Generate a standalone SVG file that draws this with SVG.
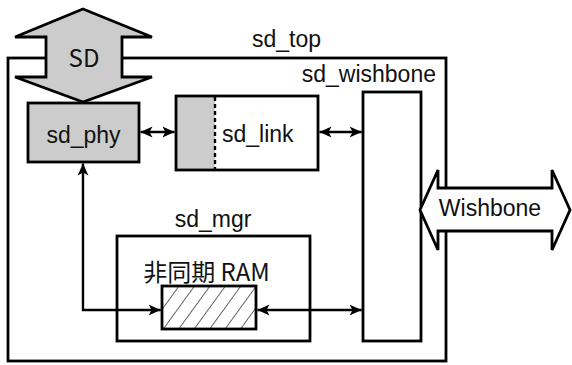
<svg xmlns="http://www.w3.org/2000/svg" width="572" height="365" viewBox="0 0 572 365">
  <style>
    .box { fill: #ffffff; stroke: #000000; stroke-width: 2.8; }
    .gray { fill: #cccccc; }
    .wire { fill: none; stroke: #000000; stroke-width: 2.4; }
    .lbl { font-family: "Liberation Sans", Arial, sans-serif; font-size: 23px; fill: #111111; }
    .jp { font-family: "Noto Sans CJK JP", "Liberation Sans", sans-serif; font-size: 24px; fill: #111111; }
  </style>
  <defs>
    <marker id="arrow" viewBox="0 0 10 10" refX="10" refY="5" markerWidth="12" markerHeight="12" markerUnits="userSpaceOnUse" orient="auto-start-reverse">
      <path d="M0,0.5 L10,5 L0,9.5 L2.5,5 Z" fill="#000000"/>
    </marker>
    <pattern id="hatch" patternUnits="userSpaceOnUse" width="12.5" height="12.5" patternTransform="rotate(36)">
      <line x1="0" y1="0" x2="0" y2="12.5" stroke="#1a1010" stroke-width="1.3"/>
    </pattern>
  </defs>

  <!-- outer module -->
  <g id="sd_top">
    <rect class="box" x="8" y="58" width="438" height="303"/>
    <text class="lbl" x="252" y="47">sd_top</text>
  </g>

  <!-- SD bus, bidirectional block arrow -->
  <g id="sd_port">
    <polygon points="83,9 152,37 122,37 122,77 152,77 83,102 15,77 46,77 46,37 15,37" fill="#cccccc" stroke="#000000" stroke-width="2.8" stroke-linejoin="miter"/>
    <text class="jp" x="84" y="67" text-anchor="middle">SD</text>
  </g>

  <g id="sd_wishbone">
    <rect class="box" x="363" y="92" width="58" height="249"/>
    <text class="lbl" x="436" y="82" text-anchor="end">sd_wishbone</text>
  </g>

  <g id="sd_phy">
    <rect class="box gray" x="28" y="103" width="111" height="59"/>
    <text class="lbl" x="83.5" y="143" text-anchor="middle">sd_phy</text>
  </g>

  <g id="sd_link">
    <rect x="176" y="96" width="39" height="74" fill="#cccccc"/>
    <rect x="176" y="96" width="142" height="74" fill="none" stroke="#000000" stroke-width="2.8"/>
    <line x1="215" y1="97" x2="215" y2="169" stroke="#000000" stroke-width="2.4" stroke-dasharray="4,3"/>
    <text class="lbl" x="222" y="142">sd_link</text>
  </g>

  <g id="sd_mgr">
    <rect class="box" x="117" y="236" width="193" height="105"/>
    <text class="lbl" x="213" y="227" text-anchor="middle">sd_mgr</text>
  </g>

  <g id="async_ram">
    <rect x="162" y="286" width="94" height="43" fill="#ffffff"/>
    <rect x="162" y="286" width="94" height="43" fill="url(#hatch)" stroke="#000000" stroke-width="2.8"/>
    <text class="jp" x="206.5" y="281" text-anchor="middle">非同期 RAM</text>
  </g>

  <!-- Wishbone bus, bidirectional block arrow -->
  <g id="wishbone_port">
    <polygon points="420,210 438,170 438,188 552,188 552,170 570,210 552,250 552,231 438,231 438,250" fill="#ffffff" stroke="#000000" stroke-width="2.8" stroke-linejoin="miter"/>
    <text class="lbl" x="490" y="216" text-anchor="middle">Wishbone</text>
  </g>

  <g id="connectors">
    <line class="wire" x1="140.5" y1="132" x2="174.5" y2="132" marker-start="url(#arrow)" marker-end="url(#arrow)"/>
    <line class="wire" x1="319.5" y1="132" x2="361.7" y2="132" marker-start="url(#arrow)" marker-end="url(#arrow)"/>
    <polyline class="wire" points="83,163.5 83,310 160.7,310" marker-start="url(#arrow)" marker-end="url(#arrow)"/>
    <line class="wire" x1="257.5" y1="310" x2="361.7" y2="310" marker-start="url(#arrow)" marker-end="url(#arrow)"/>
  </g>
</svg>
